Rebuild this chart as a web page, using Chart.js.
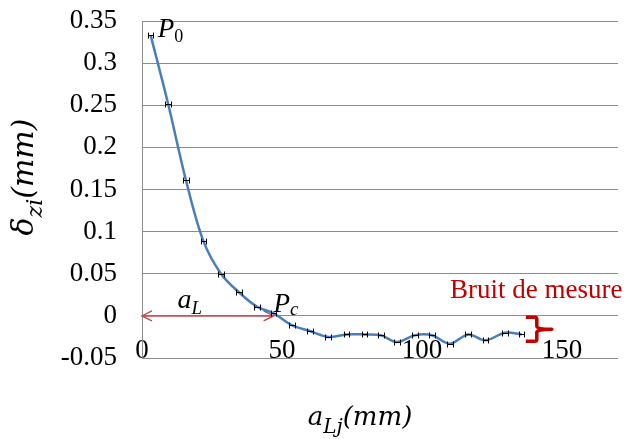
<!DOCTYPE html>
<html><head><meta charset="utf-8">
<script src="https://cdn.jsdelivr.net/npm/chart.js@4/dist/chart.umd.min.js"></script>
<style>html,body{margin:0;padding:0;background:#fff}</style>
</head><body>
<canvas id="c" width="630" height="439"></canvas>
<script>
// ---- data ----
const aLj     = [3.1, 9.3, 15.7, 21.9, 28.2, 34.6, 41.0, 47.0, 53.5, 60.0, 66.5, 73.1, 79.4, 85.3, 91.0, 97.5, 103.5, 110.0, 116.5, 122.7, 129.6, 135.6];
const deltaZi = [0.333, 0.252, 0.161, 0.089, 0.050, 0.028, 0.011, 0.003, -0.011, -0.018, -0.025, -0.022, -0.022, -0.023, -0.031, -0.023, -0.023, -0.033, -0.022, -0.029, -0.020, -0.022];
const xErr    = [1, 1, 1, 1, 1, 1, 1, 1, 1, 1, 1, 1, 1, 1, 1, 1, 1, 1, 1, 1, 1, 1];
const xTicks      = [0, 50, 100, 150];
const xTickLabels = ['0', '50', '100', '150'];
const yTicks      = [-0.05, 0, 0.05, 0.1, 0.15, 0.2, 0.25, 0.3, 0.35];
const yTickLabels = ['-0.05', '0', '0.05', '0.1', '0.15', '0.2', '0.25', '0.3', '0.35'];
const arrowSpan   = [0, 47];        // a_L arrow, in mm at delta = 0
const noiseLabel  = 'Bruit de mesure';

const SERIF = '"Liberation Serif", "Times New Roman", serif';
const MATH = '"DejaVu Serif", serif';
const GRID = '#8c8c8c';

function drawRich(ctx, x, y, parts, align) {
  let w = 0;
  parts.forEach(p => { ctx.font = p.f; p.w = ctx.measureText(p.t).width; w += p.w; });
  let cx = align === 'center' ? x - w / 2 : x;
  parts.forEach(p => {
    ctx.font = p.f;
    ctx.fillText(p.t, cx, y + (p.dy || 0));
    cx += p.w;
  });
}

const annot = {
  id: 'annot',
  beforeDatasetsDraw(chart) {
    const {ctx, scales: {x, y}} = chart;
    const y0 = y.getPixelForValue(0);
    const xa = x.getPixelForValue(arrowSpan[0]);
    const xb = x.getPixelForValue(arrowSpan[1]);
    ctx.save();
    ctx.strokeStyle = '#c0504d';
    ctx.lineWidth = 1.5;
    ctx.beginPath();
    ctx.moveTo(xa, y0); ctx.lineTo(xb, y0);
    ctx.moveTo(xa + 10, y0 - 5); ctx.lineTo(xa, y0); ctx.lineTo(xa + 10, y0 + 5);
    ctx.moveTo(xb - 10, y0 - 5); ctx.lineTo(xb, y0); ctx.lineTo(xb - 10, y0 + 5);
    ctx.stroke();
    ctx.restore();
  },
  afterDatasetsDraw(chart) {
    const {ctx, scales: {x, y}} = chart;
    ctx.save();
    ctx.strokeStyle = '#000';
    ctx.lineWidth = 1;
    ctx.beginPath();
    for (let i = 0; i < aLj.length; i++) {
      const x1 = x.getPixelForValue(aLj[i] - xErr[i]);
      const x2 = x.getPixelForValue(aLj[i] + xErr[i]);
      const py = Math.round(y.getPixelForValue(deltaZi[i])) + 0.5;
      const a = Math.round(x1) + 0.5, b = Math.round(x2) + 0.5;
      ctx.moveTo(a, py); ctx.lineTo(b, py);
      ctx.moveTo(a, py - 3); ctx.lineTo(a, py + 3);
      ctx.moveTo(b, py - 3); ctx.lineTo(b, py + 3);
    }
    ctx.stroke();
    ctx.restore();
  },
  afterDraw(chart) {
    const {ctx, scales: {x, y}} = chart;
    ctx.save();
    ctx.fillStyle = '#000';
    ctx.textBaseline = 'alphabetic';
    const it28 = 'italic 28px ' + SERIF, it19 = 'italic 19px ' + SERIF;
    // P0
    const p0x = x.getPixelForValue(aLj[0]), p0y = y.getPixelForValue(deltaZi[0]);
    drawRich(ctx, p0x + 7, p0y + 2, [{t: 'P', f: 'italic 27px ' + SERIF}, {t: '0', f: '18px ' + SERIF, dy: 5}], 'left');
    // Pc
    const pcx = x.getPixelForValue(aLj[7]), pcy = y.getPixelForValue(deltaZi[7]);
    drawRich(ctx, pcx, pcy - 1, [{t: 'P', f: 'italic 27px ' + SERIF}, {t: 'c', f: 'italic 19px ' + SERIF, dy: 3}], 'left');
    // a_L
    drawRich(ctx, x.getPixelForValue(12.7), y.getPixelForValue(0) - 8, [{t: 'a', f: it28}, {t: 'L', f: it19, dy: 6}], 'left');
    // x title
    drawRich(ctx, 360, 425, [{t: 'a', f: 'italic 26px ' + MATH}, {t: 'Lj', f: 'italic 20px ' + MATH, dy: 8}, {t: '(mm)', f: 'italic 26px ' + MATH}], 'center');
    // y title
    ctx.save();
    ctx.translate(33, 177);
    ctx.rotate(-Math.PI / 2);
    drawRich(ctx, 0, 0, [{t: 'δ', f: 'italic 30px ' + MATH}, {t: 'zi', f: 'italic 22px ' + MATH, dy: 9}, {t: '(mm)', f: 'italic 30px ' + MATH}], 'center');
    ctx.restore();
    // noise label
    ctx.fillStyle = '#c00000';
    ctx.font = '27px ' + SERIF;
    ctx.fillText(noiseLabel, x.getPixelForValue(110), y.getPixelForValue(0.021));
    // brace
    const bx = x.getPixelForValue(141), cy = y.getPixelForValue(-0.016);
    ctx.strokeStyle = '#c00000';
    ctx.lineWidth = 3.5;
    ctx.lineJoin = 'round';
    ctx.lineCap = 'butt';
    ctx.beginPath();
    ctx.moveTo(bx - 11, cy - 12);
    ctx.lineTo(bx - 2, cy - 12);
    ctx.quadraticCurveTo(bx, cy - 12, bx, cy - 10);
    ctx.lineTo(bx, cy - 3);
    ctx.quadraticCurveTo(bx, cy, bx + 15, cy);
    ctx.quadraticCurveTo(bx, cy, bx, cy + 3);
    ctx.lineTo(bx, cy + 10);
    ctx.quadraticCurveTo(bx, cy + 12, bx - 2, cy + 12);
    ctx.lineTo(bx - 11, cy + 12);
    ctx.stroke();
    ctx.restore();
  }
};

new Chart(document.getElementById('c'), {
  type: 'scatter',
  data: {
    datasets: [{
      data: aLj.map((v, i) => ({x: v, y: deltaZi[i]})),
      showLine: true,
      borderColor: '#4a7ebb',
      borderWidth: 2.5,
      tension: 0.35,
      pointRadius: 0,
      fill: false
    }]
  },
  options: {
    responsive: false,
    animation: false,
    layout: {padding: {top: 21, right: 12, left: 0, bottom: 0}},
    plugins: {legend: {display: false}, tooltip: {enabled: false}},
    scales: {
      x: {
        type: 'linear', min: 0, max: 170,
        afterBuildTicks: s => { s.ticks = xTicks.map(v => ({value: v})); },
        afterFit: s => { s.height = 81; s.paddingLeft = 0; s.paddingRight = 0; },
        ticks: {
          callback: v => xTickLabels[xTicks.indexOf(v)],
          font: {family: SERIF, size: 27}, color: '#000',
          mirror: true, padding: -9, maxRotation: 0, autoSkip: false
        },
        grid: {display: false, drawTicks: false},
        border: {display: false}
      },
      y: {
        min: -0.05, max: 0.35,
        afterBuildTicks: s => { s.ticks = yTicks.map(v => ({value: v})); },
        afterFit: s => { s.width = 142; s.paddingTop = 0; s.paddingBottom = 0; },
        ticks: {
          callback: v => yTickLabels[yTicks.findIndex(t => Math.abs(t - v) < 1e-9)],
          font: {family: SERIF, size: 27}, color: '#000', padding: 25
        },
        grid: {color: GRID, lineWidth: 1, drawTicks: false},
        border: {display: true, color: GRID, width: 1}
      }
    }
  },
  plugins: [annot]
});
</script>
</body></html>
